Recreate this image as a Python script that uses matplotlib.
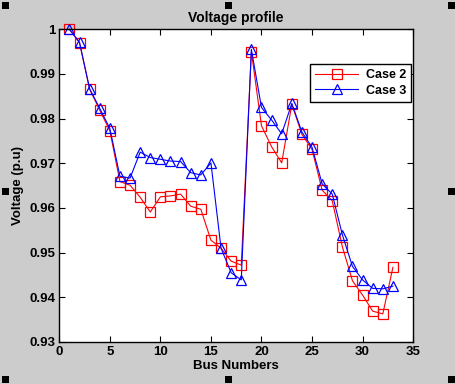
import matplotlib
matplotlib.use("Agg")
import matplotlib.pyplot as plt
from matplotlib.patches import Rectangle

bus = list(range(1, 34))
case2 = [1.0000, 0.9970, 0.9866, 0.9819, 0.9773, 0.9659, 0.9651, 0.9624, 0.9591, 0.9625,
         0.9627, 0.9631, 0.9604, 0.9597, 0.9528, 0.9510, 0.9481, 0.9472, 0.9950, 0.9784,
         0.9737, 0.9701, 0.9832, 0.9765, 0.9731, 0.9640, 0.9616, 0.9513, 0.9437, 0.9405,
         0.9369, 0.9363, 0.9467]
case3 = [1.0000, 0.9971, 0.9867, 0.9823, 0.9778, 0.9671, 0.9667, 0.9725, 0.9713, 0.9709,
         0.9705, 0.9704, 0.9679, 0.9674, 0.9701, 0.9510, 0.9455, 0.9439, 0.9955, 0.9825,
         0.9797, 0.9766, 0.9834, 0.9770, 0.9736, 0.9654, 0.9631, 0.9540, 0.9469, 0.9439,
         0.9420, 0.9419, 0.9425]
xticks = [0, 5, 10, 15, 20, 25, 30, 35]
yticks = [0.93, 0.94, 0.95, 0.96, 0.97, 0.98, 0.99, 1.0]
ytick_labels = ["0.93", "0.94", "0.95", "0.96", "0.97", "0.98", "0.99", "1"]

plt.rcParams['font.family'] = ['Liberation Sans', 'DejaVu Sans']
plt.rcParams['font.weight'] = 'bold'

fig = plt.figure(figsize=(4.56, 3.84), dpi=100, facecolor='#cccccc')
ax = fig.add_axes([0.130, 0.1094, 0.776, 0.8143])
ax.set_facecolor('white')

ax.plot(bus, case2, color='red', marker='s', markersize=6.5, markerfacecolor='none',
        markeredgecolor='red', linewidth=0.8, markeredgewidth=0.9, label='Case 2', clip_on=False)
ax.plot(bus, case3, color='blue', marker='^', markersize=7.5, markerfacecolor='none',
        markeredgecolor='blue', linewidth=0.8, markeredgewidth=0.9, label='Case 3', clip_on=False)

ax.set_xlim(0, 35)
ax.set_ylim(0.93, 1.0)
ax.set_xticks(xticks)
ax.set_xticklabels([str(t) for t in xticks], fontweight='bold', fontsize=9.5)
ax.set_yticks(yticks)
ax.set_yticklabels(ytick_labels, fontweight='bold', fontsize=9.5)
ax.tick_params(direction='in', length=4, width=0.8, top=True, right=True, pad=3, colors='black')
for s in ax.spines.values():
    s.set_linewidth(1.0)
    s.set_color('black')

ax.set_title('Voltage profile', fontsize=10, fontweight='bold', pad=5)
ax.set_xlabel('Bus Numbers', fontsize=9.5, fontweight='bold', labelpad=1)
ax.set_ylabel('Voltage (p.u)', fontsize=9.5, fontweight='bold', labelpad=4)

leg = ax.legend(loc='upper right', bbox_to_anchor=(0.995, 0.889), borderaxespad=0,
                fancybox=False, edgecolor='black', framealpha=1, handlelength=3.5,
                prop={'weight': 'bold', 'size': 9}, borderpad=0.4, labelspacing=0.3,
                handletextpad=0.6)
leg.get_frame().set_linewidth(1.0)

# selection handles
W, H = 456, 384
sz = 7
for (px, py) in [(2, 2), (225, 2), (448, 2), (2, 188), (448, 188), (2, 376), (225, 376), (448, 376)]:
    fig.patches.append(Rectangle((px / W, 1 - (py + sz) / H), sz / W, sz / H,
                                 transform=fig.transFigure, facecolor='black', edgecolor='none'))

fig.savefig('out.png', dpi=100, facecolor=fig.get_facecolor())
